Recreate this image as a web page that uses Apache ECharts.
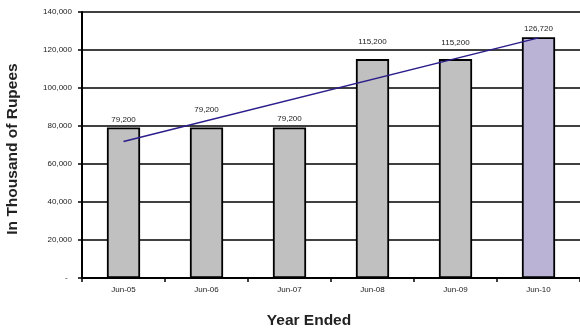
<!DOCTYPE html>
<html>
<head>
<meta charset="utf-8">
<script src="https://cdn.jsdelivr.net/npm/echarts@6/dist/echarts.min.js"></script>
<style>
html,body{margin:0;padding:0;background:#fff;}
#chart{width:580px;height:332px;}
</style>
</head>
<body>
<div id="chart"></div>
<script>
var categories = ['Jun-05', 'Jun-06', 'Jun-07', 'Jun-08', 'Jun-09', 'Jun-10'];
var values = [79200, 79200, 79200, 115200, 115200, 126720];
var trendValues = [71860, '-', '-', '-', '-', 126380];
var yTicks = [0, 20000, 40000, 60000, 80000, 100000, 120000, 140000];
var barColors = ['#C0C0C0', '#C0C0C0', '#C0C0C0', '#C0C0C0', '#C0C0C0', '#BAB3D6'];
var labelGaps = [4, 14, 5, 13, 12, 4];

function fmt(v) {
  if (v === 0) return '-  ';
  return v.toString().replace(/\B(?=(\d{3})+(?!\d))/g, ',');
}

var chart = echarts.init(document.getElementById('chart'), null, {renderer: 'canvas'});
chart.setOption({
  animation: false,
  backgroundColor: '#ffffff',
  grid: {left: 82, right: 0, top: 12, bottom: 54, containLabel: false},
  xAxis: {
    type: 'category',
    data: categories,
    axisLine: {lineStyle: {color: '#000', width: 2}},
    axisTick: {show: true, length: 4, lineStyle: {color: '#000', width: 1.5}, alignWithLabel: false},
    axisLabel: {fontFamily: 'Liberation Sans, Arial', fontSize: 8, color: '#222', margin: 8}
  },
  yAxis: {
    type: 'value',
    min: yTicks[0],
    max: yTicks[yTicks.length - 1],
    interval: 20000,
    axisLine: {show: true, lineStyle: {color: '#000', width: 2}},
    axisTick: {show: true, length: 4, lineStyle: {color: '#000', width: 1.5}},
    axisLabel: {fontFamily: 'Liberation Sans, Arial', fontSize: 8, color: '#222', margin: 10, formatter: fmt},
    splitLine: {show: true, lineStyle: {color: '#000', width: 1.5}}
  },
  series: [
    {
      type: 'bar',
      data: values.map(function (v, i) {
        return {value: v, itemStyle: {color: barColors[i]}, label: {distance: labelGaps[i]}};
      }),
      barWidth: '40%',
      itemStyle: {borderColor: '#000', borderWidth: 1.8},
      label: {
        show: true, position: 'top',
        fontFamily: 'Liberation Sans, Arial', fontSize: 8, color: '#222',
        formatter: function (p) { return fmt(p.value); }
      },
      z: 2
    },
    {
      type: 'line',
      data: trendValues,
      connectNulls: true,
      symbol: 'none',
      lineStyle: {color: '#2A1C8A', width: 1.5},
      z: 3
    }
  ],
  graphic: [
    {
      type: 'text', x: 309, y: 321,
      style: {text: 'Year Ended', font: 'bold 15.5px Liberation Sans, Arial', fill: '#222', align: 'center', verticalAlign: 'middle'}
    },
    {
      type: 'text', x: 13, y: 149, rotation: Math.PI / 2,
      style: {text: 'In Thousand of Rupees', font: 'bold 15.5px Liberation Sans, Arial', fill: '#222', align: 'center', verticalAlign: 'middle'}
    }
  ]
});
</script>
</body>
</html>
